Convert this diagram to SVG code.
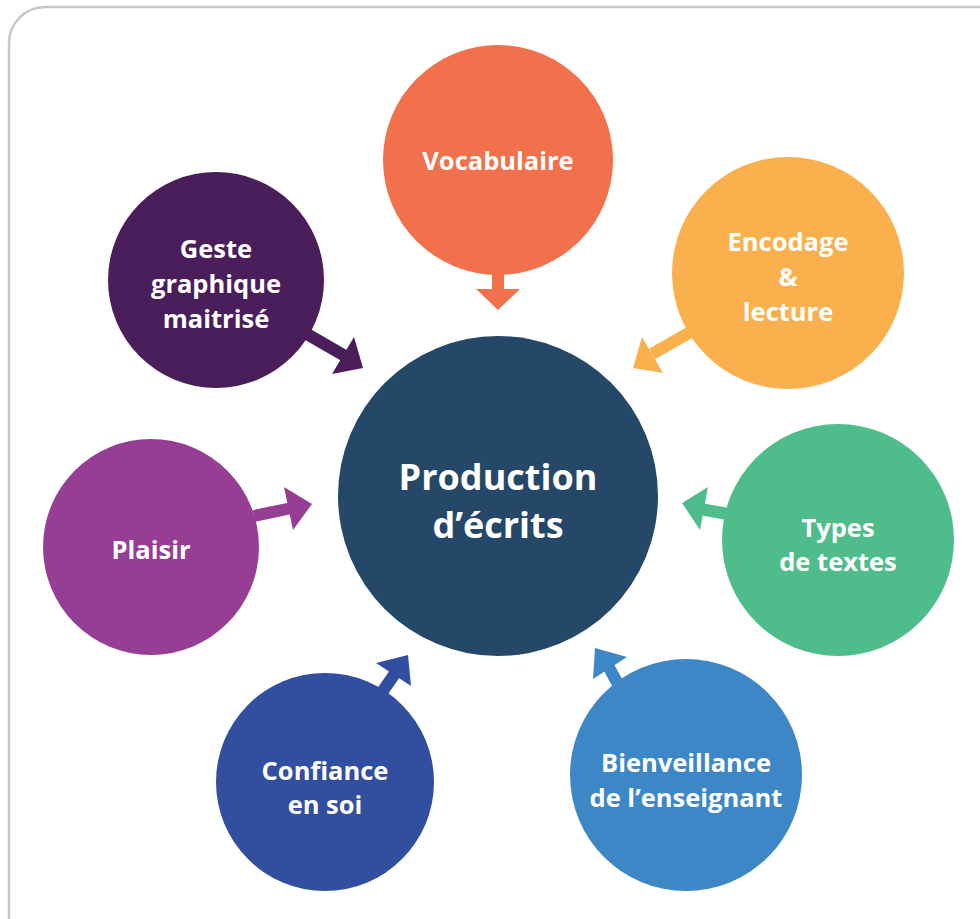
<svg xmlns="http://www.w3.org/2000/svg" width="980" height="919" viewBox="0 0 980 919">
<style>
.t{font-family:"Open Sans","Liberation Sans",sans-serif;font-weight:700;fill:#fff;text-anchor:middle;font-size:25.5px}
.big{font-size:36px}
</style>
<rect width="980" height="919" fill="#fff"/>
<rect x="9" y="7" width="1010" height="960" rx="36" fill="none" stroke="#c7c7cb" stroke-width="2.5"/>
<g id="connectors">
<path d="M492 270 V289 H476 L498 310 L520 289 H504 V270 Z" fill="#F2704B"/>
<g fill="#F9B04D"><path d="M694 330 L652 354" stroke="#F9B04D" stroke-width="12"/><polygon points="633,368 642,337 663,373"/></g>
<g fill="#4A1E5A"><path d="M300 330 L345 356" stroke="#4A1E5A" stroke-width="12"/><polygon points="363,368 354,337 332,374"/></g>
<g fill="#4FBD8B"><path d="M728 514 L700 509" stroke="#4FBD8B" stroke-width="12"/><polygon points="682,503 708,487 700,530"/></g>
<g fill="#963E93"><path d="M254 516 L292 508" stroke="#963E93" stroke-width="12"/><polygon points="312,504 284,487 293,530"/></g>
<g fill="#324E9E"><path d="M378 698 L396 672" stroke="#324E9E" stroke-width="12"/><polygon points="408,655 376,663 411,686"/></g>
<g fill="#3E87C6"><path d="M618 684 L607 664" stroke="#3E87C6" stroke-width="12"/><polygon points="595,648 627,657 593,679"/></g>
</g>
<g id="center"><circle cx="498" cy="496" r="160" fill="#254868"/><text class="t big" x="498" y="490">Production</text><text class="t big" x="498" y="538">d’écrits</text></g>
<g id="vocabulaire"><circle cx="498" cy="160" r="115" fill="#F2704B"/><text class="t" x="498" y="170">Vocabulaire</text></g>
<g id="encodage"><circle cx="788" cy="273" r="116" fill="#F9B04D"/><text class="t" x="788" y="251">Encodage</text><text class="t" x="788" y="286">&amp;</text><text class="t" x="788" y="321">lecture</text></g>
<g id="types"><circle cx="838" cy="540" r="116" fill="#4FBD8B"/><text class="t" x="838" y="537">Types</text><text class="t" x="838" y="571">de textes</text></g>
<g id="bienveillance"><circle cx="686" cy="775" r="116" fill="#3E87C6"/><text class="t" x="686" y="772">Bienveillance</text><text class="t" x="686" y="807">de l’enseignant</text></g>
<g id="confiance"><circle cx="325" cy="782" r="109" fill="#324E9E"/><text class="t" x="325" y="780">Confiance</text><text class="t" x="325" y="814">en soi</text></g>
<g id="plaisir"><circle cx="151" cy="547" r="108" fill="#963E93"/><text class="t" x="151" y="559">Plaisir</text></g>
<g id="geste"><circle cx="216" cy="280" r="108" fill="#4A1E5A"/><text class="t" x="216" y="258">Geste</text><text class="t" x="216" y="293">graphique</text><text class="t" x="216" y="328">maitrisé</text></g>
</svg>
